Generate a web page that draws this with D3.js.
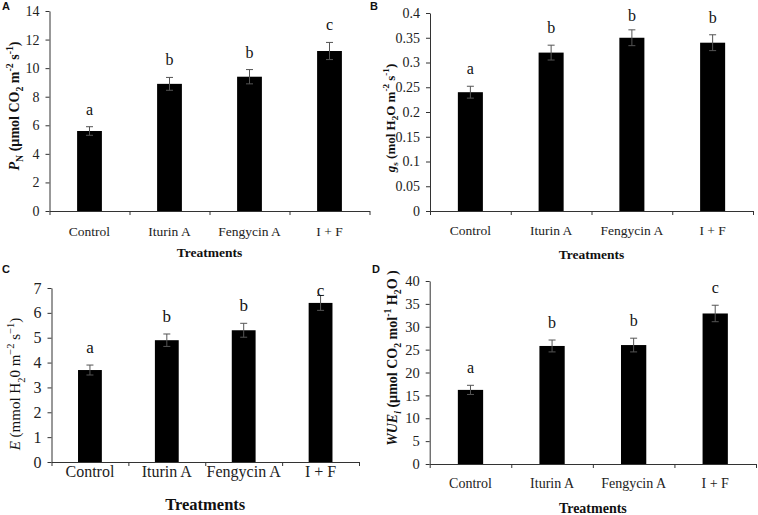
<!DOCTYPE html>
<html>
<head>
<meta charset="utf-8">
<script src="https://cdn.jsdelivr.net/npm/d3@7"></script>
<style>
  body { margin: 0; background: #fff; }
  svg { display: block; }
  text { font-family: "Liberation Serif", "Times New Roman", serif; fill: #111; }
</style>
</head>
<body>
<div id="chart"></div>
<script>
// Treatments shared by all four panels
var treatments = ["Control", "Iturin A", "Fengycin A", "I + F"];

// A: net photosynthesis
var pnMeans = [5.6, 8.9, 9.4, 11.2];
var pnErrors = [0.3, 0.45, 0.5, 0.6];
var pnLetters = ["a", "b", "b", "c"];
var pnTicks = [0, 2, 4, 6, 8, 10, 12, 14];

// B: stomatal conductance
var gsMeans = [0.24, 0.32, 0.35, 0.34];
var gsErrors = [0.012, 0.015, 0.016, 0.016];
var gsLetters = ["a", "b", "b", "b"];
var gsTicks = [0, 0.05, 0.1, 0.15, 0.2, 0.25, 0.3, 0.35, 0.4];

// C: transpiration
var eMeans = [3.7, 4.9, 5.3, 6.4];
var eErrors = [0.2, 0.25, 0.28, 0.3];
var eLetters = ["a", "b", "b", "c"];
var eTicks = [0, 1, 2, 3, 4, 5, 6, 7];

// D: water use efficiency
var wueMeans = [16.2, 25.8, 26.0, 32.9];
var wueErrors = [1.0, 1.3, 1.5, 1.8];
var wueLetters = ["a", "b", "b", "c"];
var wueTicks = [0, 5, 10, 15, 20, 25, 30, 35, 40];

var svg = d3.select("#chart").append("svg")
    .attr("width", 758)
    .attr("height", 515);

// write a label made of pieces (italic, subscript, superscript)
function richText(sel, parts, size) {
    var shift = 0; // current baseline offset, undone on the next piece
    parts.forEach(function(p) {
        var ts = sel.append("tspan").text(p.t);
        var want = p.sub ? size * 0.3 : (p.sup ? -size * 0.4 : 0);
        if (want !== shift) ts.attr("dy", want - shift);
        shift = want;
        if (p.italic) ts.style("font-style", "italic");
        if (p.sub || p.sup) ts.style("font-size", (size * 0.7) + "px");
    });
}

var panels = [
    { id: "A", means: pnMeans, errors: pnErrors, letters: pnLetters, ticks: pnTicks,
      left: 49.5, right: 369.5, top: 11, bottom: 211,
      tickFont: 14, catFont: 13.5, catY: 236, treatFont: 13.5, treatY: 257, letterFont: 16,
      labelX: 2, labelY: 10, titleX: 14, titleY: 106, titleFont: 14, titleBold: true,
      title: [{t: "P", italic: true}, {t: "N", sub: true}, {t: " (\u00b5mol CO"}, {t: "2", sub: true},
              {t: " m"}, {t: "-2", sup: true}, {t: " s"}, {t: "-1", sup: true}, {t: ")"}] },
    { id: "B", means: gsMeans, errors: gsErrors, letters: gsLetters, ticks: gsTicks,
      left: 430, right: 753, top: 13, bottom: 211,
      tickFont: 14, catFont: 13.5, catY: 235, treatFont: 13.5, treatY: 259, letterFont: 16,
      labelX: 370, labelY: 10, titleX: 390, titleY: 118, titleFont: 13, titleBold: true,
      title: [{t: "g", italic: true}, {t: "s", sub: true}, {t: " (mol H"}, {t: "2", sub: true},
              {t: "O m"}, {t: "-2", sup: true}, {t: " s"}, {t: "-1", sup: true}, {t: ")"}] },
    { id: "C", means: eMeans, errors: eErrors, letters: eLetters, ticks: eTicks,
      left: 51.5, right: 359, top: 288, bottom: 462,
      tickFont: 16, catFont: 16, catY: 477, treatFont: 16.5, treatY: 510, letterFont: 17,
      labelX: 2, labelY: 273, titleX: 15, titleY: 384, titleFont: 15, titleBold: false,
      title: [{t: "E", italic: true}, {t: " (mmol H"}, {t: "2", sub: true},
              {t: "0 m"}, {t: "\u22122", sup: true}, {t: " s"}, {t: "\u22121", sup: true}, {t: ")"}] },
    { id: "D", means: wueMeans, errors: wueErrors, letters: wueLetters, ticks: wueTicks,
      left: 429.7, right: 756, top: 281, bottom: 464,
      tickFont: 14.5, catFont: 14, catY: 488, treatFont: 14, treatY: 513, letterFont: 16,
      labelX: 372, labelY: 273, titleX: 392, titleY: 358, titleFont: 14, titleBold: true,
      title: [{t: "WUE", italic: true}, {t: "i", sub: true, italic: true}, {t: " (\u00b5mol CO"}, {t: "2", sub: true},
              {t: " mol"}, {t: "-1", sup: true}, {t: " H"}, {t: "2", sub: true}, {t: "O )"}] }
];

panels.forEach(function(p) {
    var g = svg.append("g");
    var maxTick = p.ticks[p.ticks.length - 1];

    var y = d3.scaleLinear()
        .domain([0, maxTick])
        .range([p.bottom, p.top]);

    var x = d3.scaleBand()
        .domain(treatments)
        .range([p.left, p.right])
        .paddingInner(0.69)
        .paddingOuter(0.345);

    // boundaries between categories for the x tick marks
    var xb = d3.scaleLinear()
        .domain([0, treatments.length])
        .range([p.left, p.right]);

    // bars
    g.selectAll("rect.bar")
        .data(p.means)
        .enter()
        .append("rect")
        .attr("class", "bar")
        .attr("x", function(d, i) { return x(treatments[i]); })
        .attr("width", x.bandwidth())
        .attr("y", function(d) { return y(d); })
        .attr("height", function(d) { return y(0) - y(d); })
        .style("fill", "#000");

    // error bars
    var eb = g.selectAll("g.err")
        .data(p.means)
        .enter()
        .append("g")
        .attr("class", "err")
        .style("stroke", "#555")
        .style("stroke-width", 1);
    var cx = function(i) { return x(treatments[i]) + x.bandwidth() / 2; };
    eb.append("line")
        .attr("x1", function(d, i) { return cx(i); })
        .attr("x2", function(d, i) { return cx(i); })
        .attr("y1", function(d, i) { return y(d - p.errors[i]); })
        .attr("y2", function(d, i) { return y(d + p.errors[i]); });
    [-1, 1].forEach(function(s) {
        eb.append("line")
            .attr("x1", function(d, i) { return cx(i) - 3.5; })
            .attr("x2", function(d, i) { return cx(i) + 3.5; })
            .attr("y1", function(d, i) { return y(d + s * p.errors[i]); })
            .attr("y2", function(d, i) { return y(d + s * p.errors[i]); });
    });

    // significance letters
    g.selectAll("text.letter")
        .data(p.means)
        .enter()
        .append("text")
        .attr("class", "letter")
        .attr("x", function(d, i) { return cx(i); })
        .attr("y", function(d, i) { return Math.max(y(d + p.errors[i]) - 12, p.top + 8); })
        .attr("text-anchor", "middle")
        .style("font-size", p.letterFont + "px")
        .text(function(d, i) { return p.letters[i]; });

    // y axis
    var yAxis = g.append("g")
        .attr("transform", "translate(" + p.left + ",0)")
        .call(d3.axisLeft(y).tickValues(p.ticks).tickSize(4).tickSizeOuter(0).tickPadding(6)
            .tickFormat(function(d) { return String(d); }));
    yAxis.selectAll("text").style("font-family", "Liberation Serif").style("font-size", p.tickFont + "px").style("fill", "#222");

    // x axis line and tick marks at category boundaries
    g.append("g")
        .attr("transform", "translate(0," + p.bottom + ")")
        .call(d3.axisBottom(xb).tickValues(d3.range(treatments.length + 1)).tickSize(4).tickSizeOuter(0)
            .tickFormat(""));

    g.selectAll(".domain, .tick line").style("stroke", "#333");

    // category labels
    g.selectAll("text.cat")
        .data(treatments)
        .enter()
        .append("text")
        .attr("class", "cat")
        .attr("x", function(d) { return x(d) + x.bandwidth() / 2; })
        .attr("y", p.catY)
        .attr("text-anchor", "middle")
        .style("font-size", p.catFont + "px")
        .style("fill", "#222")
        .text(function(d) { return d; });

    // x axis title
    g.append("text")
        .attr("x", (p.left + p.right) / 2)
        .attr("y", p.treatY)
        .attr("text-anchor", "middle")
        .style("font-size", p.treatFont + "px")
        .style("font-weight", "bold")
        .text("Treatments");

    // y axis title
    var yt = g.append("text")
        .attr("transform", "translate(" + p.titleX + "," + p.titleY + ") rotate(-90)")
        .attr("text-anchor", "middle")
        .attr("dy", "0.35em")
        .style("font-size", p.titleFont + "px")
        .style("font-weight", p.titleBold ? "bold" : "normal");
    richText(yt, p.title, p.titleFont);

    // panel letter
    g.append("text")
        .attr("x", p.labelX)
        .attr("y", p.labelY)
        .style("font-family", "Liberation Sans, Arial, sans-serif")
        .style("font-weight", "bold")
        .style("font-size", "11px")
        .text(p.id);
});
</script>
</body>
</html>
